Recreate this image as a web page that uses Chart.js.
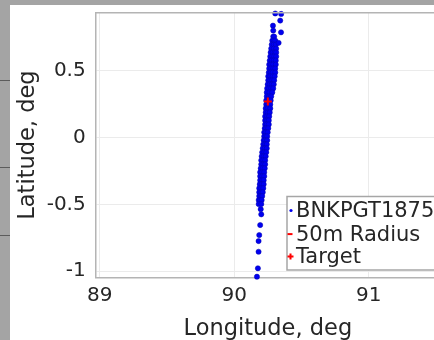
<!DOCTYPE html>
<html>
<head>
<meta charset="utf-8">
<script src="https://cdn.jsdelivr.net/npm/chart.js@4.4.1/dist/chart.umd.min.js"></script>
<style>
  html, body { margin: 0; padding: 0; background: #fff; width: 434px; height: 340px; overflow: hidden; position: relative; }
  .frame-top { position: absolute; left: 0; top: 0; width: 434px; height: 5px; background: #a4a4a4; }
  .frame-left { position: absolute; left: 0; top: 0; width: 10px; height: 340px; background: #a4a4a4; }
  .frame-line { position: absolute; left: 0; width: 10px; height: 1px; background: #5c5c5c; }
  #wrap { position: absolute; left: 10px; top: 5px; width: 440px; height: 335px; }
</style>
</head>
<body>
<div class="frame-top"></div>
<div class="frame-left"></div>
<div class="frame-line" style="top:80px"></div>
<div class="frame-line" style="top:167px"></div>
<div class="frame-line" style="top:235px"></div>
<div id="wrap"><canvas id="track-chart"></canvas></div>
<script>
// Dense part of the track: one latitude per row, longitudes spread across the band
const bandLat = [
  0.757, 0.727, 0.697, 0.667, 0.638, 0.608, 0.578, 0.548, 0.518, 0.488,
  0.459, 0.429, 0.399, 0.369, 0.339, 0.309, 0.279, 0.249, 0.219, 0.189,
  0.159, 0.129, 0.099, 0.070, 0.040, 0.010, -0.020, -0.050, -0.080, -0.110,
  -0.140, -0.170, -0.200, -0.230, -0.259, -0.289, -0.319, -0.349, -0.379, -0.409,
  -0.438, -0.468, -0.498
];
const bandLon = [
  [90.290, 90.297],
  [90.283, 90.294, 90.305],
  [90.279, 90.294, 90.309],
  [90.275, 90.294, 90.312],
  [90.271, 90.286, 90.301, 90.312],
  [90.268, 90.283, 90.297, 90.312],
  [90.264, 90.279, 90.294, 90.309],
  [90.260, 90.275, 90.290, 90.309],
  [90.260, 90.275, 90.290, 90.305],
  [90.257, 90.271, 90.286, 90.305],
  [90.253, 90.268, 90.286, 90.301],
  [90.253, 90.268, 90.283, 90.297],
  [90.249, 90.264, 90.279, 90.294],
  [90.245, 90.260, 90.275, 90.290],
  [90.242, 90.262, 90.283],
  [90.242, 90.260, 90.275],
  [90.238, 90.257, 90.271],
  [90.238, 90.253, 90.268],
  [90.234, 90.249, 90.268],
  [90.234, 90.249, 90.264],
  [90.230, 90.245, 90.260],
  [90.230, 90.245, 90.257],
  [90.230, 90.242, 90.257],
  [90.227, 90.238, 90.253],
  [90.223, 90.234, 90.249],
  [90.223, 90.234, 90.245],
  [90.219, 90.230, 90.245],
  [90.216, 90.230, 90.242],
  [90.212, 90.227, 90.242],
  [90.208, 90.223, 90.238],
  [90.204, 90.219, 90.234],
  [90.201, 90.216, 90.230],
  [90.201, 90.216, 90.230],
  [90.197, 90.212, 90.227],
  [90.193, 90.208, 90.223],
  [90.193, 90.208, 90.223],
  [90.193, 90.208, 90.219],
  [90.190, 90.204, 90.219],
  [90.186, 90.201, 90.216],
  [90.186, 90.201, 90.212],
  [90.186, 90.197, 90.208],
  [90.182, 90.193, 90.204],
  [90.182, 90.201]
];

// Isolated fixes above and below the dense band
const sparseLon = [90.305, 90.349, 90.342, 90.288, 90.348, 90.330, 90.290,
  90.197, 90.201, 90.193, 90.186, 90.181, 90.181, 90.176, 90.169];
const sparseLat = [0.930, 0.927, 0.877, 0.839, 0.789, 0.710, 0.802,
  -0.536, -0.575, -0.655, -0.730, -0.775, -0.855, -0.979, -1.042];

// Target and its 50 m ring (tiny at this scale)
const targetLon = [90.250];
const targetLat = [0.270];
const ringLon = [90.2505, 90.2500, 90.2495, 90.2500, 90.2505];
const ringLat = [0.2700, 0.2705, 0.2700, 0.2695, 0.2700];

const seriesNames = ["BNKPGT1875", "50m Radius", "Target"];
const xTickStep = 1;
const yTickStep = 0.5;

// build the point lists for the library
const trackPoints = [];
for (let i = 0; i < bandLat.length; i++) {
  for (let j = 0; j < bandLon[i].length; j++) {
    trackPoints.push({ x: bandLon[i][j], y: bandLat[i] });
  }
}
for (let i = 0; i < sparseLon.length; i++) {
  trackPoints.push({ x: sparseLon[i], y: sparseLat[i] });
}
const ringPoints = ringLon.map((lon, i) => ({ x: lon, y: ringLat[i] }));
const targetPoints = targetLon.map((lon, i) => ({ x: lon, y: targetLat[i] }));

Chart.defaults.font.family = "'DejaVu Sans', sans-serif";
Chart.defaults.color = "#262626";

const axisColour = "#b4b4b4";
const gridColour = "#ebebeb";

// top edge of the axes box
const topBorder = {
  id: "topBorder",
  afterDraw(chart) {
    const { ctx, chartArea } = chart;
    ctx.save();
    ctx.strokeStyle = axisColour;
    ctx.lineWidth = 1.5;
    ctx.beginPath();
    ctx.moveTo(chartArea.left, chartArea.top);
    ctx.lineTo(chartArea.right, chartArea.top);
    ctx.stroke();
    ctx.restore();
  },
};

// legend box inside the axes, bottom right (clipped by the window)
const insideLegend = {
  id: "insideLegend",
  afterDraw(chart) {
    const { ctx, chartArea } = chart;
    const ds = chart.data.datasets;
    const boxX = chartArea.right - 153;
    const boxY = chartArea.bottom - 81;
    ctx.save();
    ctx.fillStyle = "#fff";
    ctx.fillRect(boxX, boxY, 170, 73.5);
    ctx.strokeStyle = "#a6a6a6";
    ctx.lineWidth = 1.5;
    ctx.strokeRect(boxX, boxY, 170, 73.5);
    ctx.font = "21px 'DejaVu Sans', sans-serif";
    ctx.textBaseline = "middle";
    const rows = [14, 37.6, 60];
    for (let i = 0; i < ds.length; i++) {
      const y = boxY + rows[i];
      const mx = boxX + 4;
      if (i === 0) {
        ctx.fillStyle = ds[i].backgroundColor;
        ctx.beginPath();
        ctx.arc(mx, y, 1.6, 0, Math.PI * 2);
        ctx.fill();
      } else if (i === 1) {
        ctx.strokeStyle = ds[i].borderColor;
        ctx.lineWidth = 2;
        ctx.beginPath();
        ctx.moveTo(mx - 3.5, y);
        ctx.lineTo(mx + 1.5, y);
        ctx.stroke();
      } else {
        ctx.strokeStyle = ds[i].borderColor;
        ctx.lineWidth = 2;
        ctx.beginPath();
        ctx.moveTo(mx - 3.5, y);
        ctx.lineTo(mx + 2.5, y);
        ctx.moveTo(mx - 0.5, y - 3);
        ctx.lineTo(mx - 0.5, y + 3);
        ctx.stroke();
      }
      ctx.fillStyle = "#262626";
      ctx.fillText(ds[i].label, boxX + 9, y + 1);
    }
    ctx.restore();
  },
};

const trackChart = new Chart(document.getElementById("track-chart"), {
  type: "scatter",
  data: {
    datasets: [
      {
        label: seriesNames[0],
        data: trackPoints,
        backgroundColor: "#0000f0",
        borderColor: "#0000b0",
        borderWidth: 0.5,
        pointRadius: 2.6,
        pointHoverRadius: 2.6,
        clip: false,
        order: 3,
      },
      {
        label: seriesNames[1],
        data: ringPoints,
        showLine: true,
        borderColor: "#ff0000",
        borderWidth: 1.5,
        pointRadius: 0,
        clip: false,
        order: 2,
      },
      {
        label: seriesNames[2],
        data: targetPoints,
        pointStyle: "cross",
        borderColor: "#ff0000",
        backgroundColor: "#ff0000",
        borderWidth: 2,
        pointRadius: 4,
        clip: false,
        order: 1,
      },
    ],
  },
  options: {
    responsive: true,
    maintainAspectRatio: false,
    animation: false,
    events: [],
    layout: { padding: { top: 7.7, right: 10, left: 0, bottom: 0 } },
    scales: {
      x: {
        type: "linear",
        min: 88.97,
        max: 91.53,
        grid: { color: gridColour, drawTicks: false },
        border: { color: axisColour, width: 1.5 },
        ticks: {
          stepSize: xTickStep,
          includeBounds: false,
          padding: 6,
          maxRotation: 0,
          font: { size: 20 },
          callback: (v) => String(v),
        },
        title: {
          display: true,
          text: "Longitude, deg",
          font: { size: 22.5, lineHeight: 1 },
          padding: { top: 0, bottom: 0 },
        },
        afterFit(scale) {
          scale.height = 62.5;
          scale.paddingLeft = 0;
          scale.paddingRight = 0;
        },
      },
      y: {
        type: "linear",
        min: -1.048,
        max: 0.936,
        grid: { color: gridColour, drawTicks: false },
        border: { color: axisColour, width: 1.5 },
        ticks: {
          stepSize: yTickStep,
          includeBounds: false,
          padding: 10,
          font: { size: 20 },
          callback: (v) => String(v),
        },
        title: {
          display: true,
          text: "Latitude, deg",
          font: { size: 22.5, lineHeight: 1 },
          padding: { top: 6.75, bottom: 0 },
        },
        afterFit(scale) {
          scale.width = 85.7;
          scale.paddingTop = 0;
          scale.paddingBottom = 0;
        },
      },
    },
    plugins: {
      legend: { display: false },
      tooltip: { enabled: false },
    },
  },
  plugins: [topBorder, insideLegend],
});
</script>
</body>
</html>
